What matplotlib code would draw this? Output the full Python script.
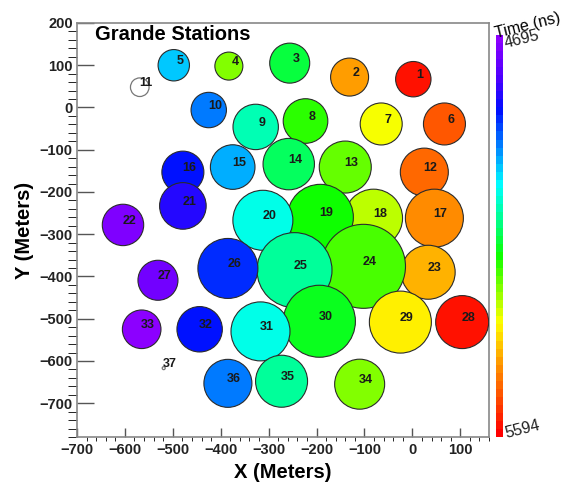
import matplotlib
matplotlib.use('Agg')
import matplotlib.pyplot as plt
import numpy as np
from matplotlib.colors import LinearSegmentedColormap, Normalize
from matplotlib.ticker import MultipleLocator

plt.rcParams['font.family'] = ['Liberation Sans', 'DejaVu Sans']

# station id, position (m), relative circle size and arrival time (ns)
station = list(range(1, 38))
x_m = [2, -131, -256, -383, -498, 67, -65, -223, -327, -425,
       -569, 25, -140, -258, -375, -479, 46, -81, -192, -312,
       -479, -604, 33, -102, -246, -385, -531, 104, -25, -194,
       -317, -444, -565, -110, -273, -385, -519]
y_m = [67, 72, 105, 98, 100, -39, -39, -32, -46, -6,
       48, -153, -141, -134, -141, -153, -262, -262, -260, -267,
       -233, -278, -390, -376, -385, -381, -409, -508, -508, -506,
       -530, -525, -525, -655, -648, -653, -617]
rel_size = [17.7, 19, 20, 14, 15.7, 21, 21, 22.3, 22.7, 17.7,
            9.3, 24, 26, 25.7, 22.3, 21, 29, 29, 33, 30,
            23.3, 20.7, 27, 42, 37.5, 30, 20, 26.5, 31, 36,
            29.5, 22.7, 19.3, 25, 26, 24, 1.5]
time_ns = [5576, 5432, 5145, 5270, 4992, 5504, 5342, 5207, 5073, 4938,
           np.nan, 5486, 5252, 5127, 4974, 4858, 5450, 5306, 5189, 5037,
           4835, 4713, 5405, 5234, 5100, 4875, 4740, 5567, 5360, 5171,
           5037, 4866, 4695, 5270, 5100, 4929, np.nan]

t_min, t_max = 4695, 5594

palette = LinearSegmentedColormap.from_list('root_rainbow', [
    (0.00, (0.55, 0.0, 1.0)),
    (0.10, (0.30, 0.0, 1.0)),
    (0.18, (0.00, 0.05, 1.0)),
    (0.27, (0.00, 0.50, 1.0)),
    (0.37, (0.00, 1.00, 1.0)),
    (0.46, (0.00, 1.00, 0.55)),
    (0.55, (0.05, 1.00, 0.0)),
    (0.64, (0.55, 1.00, 0.0)),
    (0.72, (1.00, 1.00, 0.0)),
    (0.82, (1.00, 0.60, 0.0)),
    (0.91, (1.00, 0.30, 0.0)),
    (1.00, (1.00, 0.00, 0.0)),
], N=50)
norm = Normalize(t_min, t_max)

fig = plt.figure(figsize=(5.67, 4.84), dpi=100)
ax = fig.add_axes([77 / 567, 47 / 484, 412 / 567, 414 / 484])
cax = fig.add_axes([496 / 567, 47 / 484, 7 / 567, 402 / 484])

x = np.array(x_m, dtype=float)
y = np.array(y_m, dtype=float)
t = np.array(time_ns, dtype=float)
pt = 72 / fig.dpi
s = (2 * np.array(rel_size) * pt) ** 2
hit = ~np.isnan(t)

sc = ax.scatter(x[hit], y[hit], s=s[hit], c=t[hit], cmap=palette, norm=norm,
                edgecolors='#2b2b2b', linewidths=0.8, zorder=3)
ax.scatter(x[~hit], y[~hit], s=s[~hit], facecolors='white',
           edgecolors='#777777', linewidths=0.9, zorder=3)

for n, xi, yi in zip(station, x, y):
    ax.annotate(str(n), (xi, yi), xytext=(4.5, 3), textcoords='offset points',
                ha='center', va='center', fontsize=9, fontweight='bold',
                color='#1a1a1a', zorder=4)

ax.set_xlim(-700, 160)
ax.set_ylim(-780, 200)
ax.xaxis.set_major_locator(MultipleLocator(100))
ax.xaxis.set_minor_locator(MultipleLocator(20))
ax.yaxis.set_major_locator(MultipleLocator(100))
ax.yaxis.set_minor_locator(MultipleLocator(20))
ax.tick_params(direction='in', colors='#555555', labelcolor='#222222',
               labelsize=10.5, width=1)
ax.tick_params(axis='x', which='major', length=6.5, pad=4)
ax.tick_params(axis='x', which='minor', length=3.2)
ax.tick_params(axis='y', which='major', length=12.5, pad=3)
ax.tick_params(axis='y', which='minor', length=6.2)
for lab in ax.get_xticklabels() + ax.get_yticklabels():
    lab.set_fontweight('bold')
for sp in ax.spines.values():
    sp.set_color('#888888')
    sp.set_linewidth(1.2)

ax.set_xlabel('X (Meters)', fontsize=14.5, fontweight='bold', labelpad=5)
ax.set_ylabel('Y (Meters)', fontsize=14.5, fontweight='bold', labelpad=4)
ax.text(0.044, 0.995, 'Grande Stations', transform=ax.transAxes,
        fontsize=14.5, fontweight='bold', va='top', ha='left')

cb = fig.colorbar(sc, cax=cax)
cax.invert_yaxis()
cb.outline.set_visible(False)
cax.set_yticks([])
fig.text(496 / 567, 1 - 38 / 484, 'Time (ns)', fontsize=11.5, rotation=14,
         rotation_mode='anchor', ha='left', va='baseline')
fig.text(506 / 567, 1 - 48 / 484, str(t_min), fontsize=11.5, rotation=14,
         rotation_mode='anchor', ha='left', va='baseline', color='#222222')
fig.text(506 / 567, 1 - 438 / 484, str(t_max), fontsize=11.5, rotation=14,
         rotation_mode='anchor', ha='left', va='baseline', color='#222222')

fig.savefig('out.png', dpi=100)
